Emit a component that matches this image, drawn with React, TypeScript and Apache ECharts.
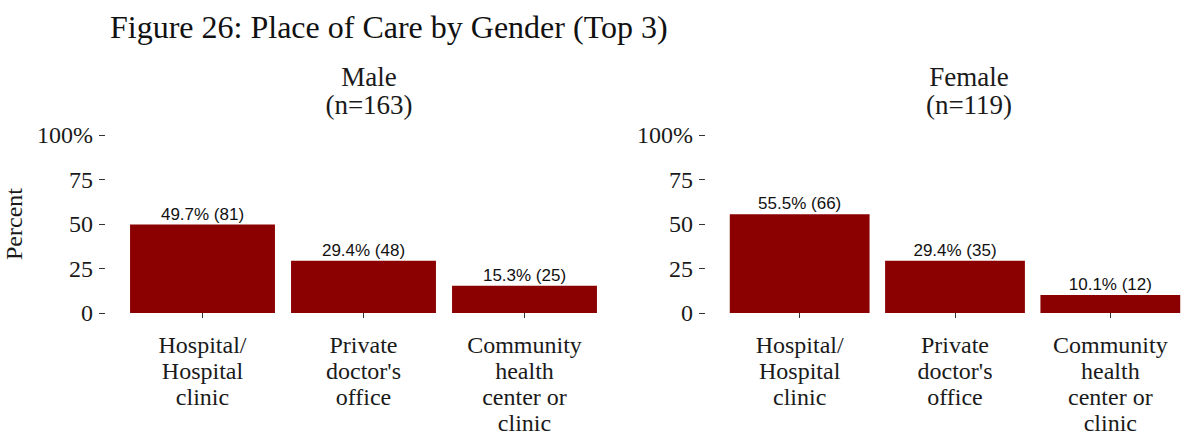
import React, { useEffect, useRef } from "react";
import * as echarts from "echarts";

const categories = ["Hospital/\nHospital\nclinic", "Private\ndoctor's\noffice", "Community\nhealth\ncenter or\nclinic"];
const malePct = [49.7, 29.4, 15.3];
const maleN = [81, 48, 25];
const femalePct = [55.5, 29.4, 10.1];
const femaleN = [66, 35, 12];
const panelTitles = ["Male\n(n=163)", "Female\n(n=119)"];
const yTicks = ["0", "25", "50", "75", "100%"];

const SERIF = "Liberation Serif";
const SANS = "Liberation Sans";
const BAR = "#8B0000";

export default function App() {
  const ref = useRef<HTMLDivElement>(null);
  useEffect(() => {
    if (!ref.current) return;
    const chart = echarts.init(ref.current, null, { renderer: "svg" });
    const gridTop = 135;
    const gridH = 178;
    const grids = [
      { left: 122, top: gridTop, width: 483, height: gridH },
      { left: 722, top: gridTop, width: 483, height: gridH },
    ];
    const mkX = (i: number) => ({
      type: "category",
      gridIndex: i,
      data: categories,
      offset: 9,
      axisLine: { show: false },
      axisTick: { show: true, alignWithLabel: true, length: 5, lineStyle: { color: "#333" } },
      axisLabel: { interval: 0, fontFamily: SERIF, fontSize: 24, lineHeight: 26, color: "#1a1a1a", margin: 10 },
    });
    const mkY = (i: number) => ({
      type: "value",
      gridIndex: i,
      min: 0,
      max: 100,
      interval: 25,
      offset: 17,
      name: i === 0 ? "Percent" : "",
      nameLocation: "middle",
      nameGap: 79,
      nameTextStyle: { fontFamily: SERIF, fontSize: 24, color: "#1a1a1a" },
      axisLine: { show: false },
      axisTick: { show: true, length: 6, lineStyle: { color: "#333" } },
      splitLine: { show: false },
      axisLabel: {
        fontFamily: SERIF,
        fontSize: 24,
        color: "#1a1a1a",
        margin: 12,
        formatter: (v: number) => yTicks[Math.round(v / 25)] ?? String(v),
      },
    });
    const mkSeries = (i: number, pct: number[], n: number[]) => ({
      type: "bar",
      xAxisIndex: i,
      yAxisIndex: i,
      data: pct,
      barCategoryGap: "10%",
      itemStyle: { color: BAR },
      label: {
        show: true,
        position: "top",
        distance: 2,
        fontFamily: SANS,
        fontSize: 17,
        color: "#111",
        formatter: (p: any) => `${pct[p.dataIndex].toFixed(1)}% (${n[p.dataIndex]})`,
      },
    });
    chart.setOption({
      animation: false,
      backgroundColor: "#fff",
      title: [
        { text: "Figure 26: Place of Care by Gender (Top 3)", left: 105, top: 6, textStyle: { fontFamily: SERIF, fontSize: 32, fontWeight: "normal", color: "#111" } },
        { text: panelTitles[0], left: 364, textAlign: "center", top: 58, textStyle: { fontFamily: SERIF, fontSize: 27, lineHeight: 28, fontWeight: "normal", color: "#1a1a1a" } },
        { text: panelTitles[1], left: 964, textAlign: "center", top: 58, textStyle: { fontFamily: SERIF, fontSize: 27, lineHeight: 28, fontWeight: "normal", color: "#1a1a1a" } },
      ],
      grid: grids,
      xAxis: [mkX(0), mkX(1)],
      yAxis: [mkY(0), mkY(1)],
      series: [mkSeries(0, malePct, maleN), mkSeries(1, femalePct, femaleN)],
    });
    return () => chart.dispose();
  }, []);
  return <div ref={ref} style={{ position: "fixed", left: 0, top: 0, width: 1188, height: 437 }} />;
}
